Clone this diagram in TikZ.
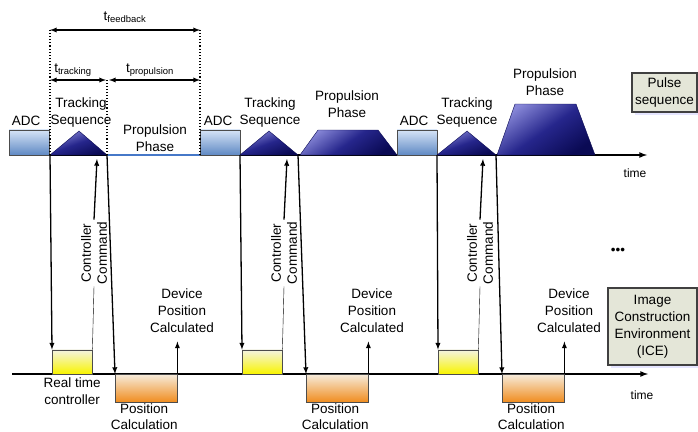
\documentclass[tikz,border=0pt]{standalone}
\usepackage{fontspec}
\setmainfont{Liberation Sans}
\usetikzlibrary{positioning,shadows}

\definecolor{adclight}{RGB}{214,228,246}
\definecolor{adcdark}{RGB}{96,138,196}
\definecolor{seqlight}{RGB}{135,135,215}
\definecolor{seqmid}{RGB}{38,38,140}
\definecolor{seqdark}{RGB}{10,10,84}
\definecolor{rtclight}{RGB}{244,244,226}
\definecolor{rtcdark}{RGB}{248,244,0}
\definecolor{poslight}{RGB}{246,236,220}
\definecolor{posdark}{RGB}{240,140,30}
\definecolor{envfill}{RGB}{228,230,216}
\definecolor{gapline}{RGB}{70,120,200}

\begin{document}
\begin{tikzpicture}[x=1pt, y=-1pt, >=latex, node distance=0pt,
  every node/.style={font=\fontsize{13.5}{17}\selectfont, align=center},
  adcbox/.style={draw=black!70, top color=adclight, bottom color=adcdark, minimum width=40pt, minimum height=25pt, inner sep=0pt, anchor=south west},
  rtcbox/.style={draw=black!70, top color=rtclight, bottom color=rtcdark, minimum width=40pt, minimum height=24pt, inner sep=0pt, anchor=south west},
  posbox/.style={draw=black!70, top color=poslight, bottom color=posdark, minimum width=62pt, minimum height=28pt, inner sep=0pt, anchor=north west},
  seqshape/.style={draw=seqdark, top color=seqlight, bottom color=seqdark, middle color=seqmid, shading angle=20},
  envbox/.style={draw=black!75, line width=1.2pt, fill=envfill, inner sep=2pt, drop shadow={shadow xshift=3pt, shadow yshift=-3pt, fill=blue!20, opacity=0.5}},
  flow/.style={->, line width=1.3pt},
  guide/.style={dotted, line width=1.1pt},
  timelbl/.style={font=\fontsize{12}{14}\selectfont},
  sublbl/.style={inner sep=1pt, font=\fontsize{13.5}{16}\selectfont},
  cmdlbl/.style={rotate=90, inner sep=2pt, font=\fontsize{13.5}{16}\selectfont}]

  \useasboundingbox (0,0) rectangle (698,431);

  % Time axes
  \coordinate (top0) at (10,155);
  \coordinate (top1) at (647,155);
  \coordinate (bot0) at (12,374);
  \coordinate (bot1) at (648,374);
  \draw[->, line width=1.6pt] (top0) -- (top1);
  \draw[->, line width=1.6pt] (bot0) -- (bot1);
  \node[timelbl] (time1) at (635,173) {time};
  \node[timelbl] (time2) at (642,395) {time};

  % Pulse sequence
  \node[adcbox] (adc1) at (9,155) {};
  \node[adcbox] (adc2) at (200,155) {};
  \node[adcbox] (adc3) at (397,155) {};
  \node (adclbl1) [above=0pt of adc1, xshift=-3pt] {ADC};
  \node (adclbl2) [above=0pt of adc2, xshift=-2pt] {ADC};
  \node (adclbl3) [above=0pt of adc3, xshift=-3pt] {ADC};

  \coordinate (trk1w) at (50,155);
  \coordinate (trk1top) at (79,131);
  \coordinate (trk1e) at (107,155);
  \coordinate (trk2w) at (240,155);
  \coordinate (trk2top) at (269,131);
  \coordinate (trk2e) at (298,155);
  \coordinate (trk3w) at (437,155);
  \coordinate (trk3top) at (467,131);
  \coordinate (trk3e) at (496,155);
  \draw[seqshape] (trk1w) -- (trk1top) -- (trk1e) -- cycle;
  \draw[seqshape] (trk2w) -- (trk2top) -- (trk2e) -- cycle;
  \draw[seqshape] (trk3w) -- (trk3top) -- (trk3e) -- cycle;
  \node (trklbl1) [above=0pt of trk1top, xshift=2pt] {Tracking\\Sequence};
  \node (trklbl2) [above=0pt of trk2top, xshift=1pt] {Tracking\\Sequence};
  \node (trklbl3) [above=0pt of trk3top] {Tracking\\Sequence};

  \draw[gapline, line width=1.2pt] (trk1e) -- (adc2.south west);
  \draw[seqshape, shading angle=35] (300,155) -- (318,130) -- (378,130) -- (397,155) -- cycle;
  \draw[seqshape, shading angle=35] (497,155) -- (515,104) -- (576,104) -- (595,155) -- cycle;
  \node (proplbl1) at (155,138) {Propulsion\\Phase};
  \node (proplbl2) at (347,104) {Propulsion\\Phase};
  \node (proplbl3) at (545,82) {Propulsion\\Phase};

  \node[envbox, minimum width=65pt, minimum height=39pt] (pulse) at (664.5,92.5) {Pulse\\sequence};

  % Timing marks
  \coordinate (fbl) at (50,30);
  \coordinate (fbr) at (200,30);
  \coordinate (fbtop) at (50,28);
  \coordinate (fbtopr) at (200,28);
  \coordinate (trkl) at (50,80);
  \coordinate (trkr) at (106,80);
  \coordinate (trkmid) at (107,80);
  \coordinate (propl) at (109,80);
  \coordinate (propr) at (200,80);
  \draw[guide] (trk1w) -- (fbtop);
  \draw[guide] (trk1e) -- (trkmid);
  \draw[guide] (adc2.south west) -- (fbtopr);
  \draw[<->, line width=1.3pt] (fbl) -- (fbr);
  \draw[<->, line width=1.3pt] (trkl) -- (trkr);
  \draw[<->, line width=1.3pt] (propl) -- (propr);
  \node (tfeed) at (125,17) {t\textsubscript{feedback}};
  \node (ttrack) at (73,70) {t\textsubscript{tracking}};
  \node (tprop) at (150,70) {t\textsubscript{propulsion}};

  % Image construction environment
  \node[rtcbox] (rtc1) at (52,374) {};
  \node[rtcbox] (rtc2) at (242,374) {};
  \node[rtcbox] (rtc3) at (438,374) {};
  \node[posbox] (pos1) at (115,374) {};
  \node[posbox] (pos2) at (306,374) {};
  \node[posbox] (pos3) at (502,374) {};
  \node (rtclbl1) [below=0pt of rtc1] {Real time\\controller};
  \node[sublbl] (poslbl1) [below=0pt of pos1, xshift=-2pt] {Position\\Calculation};
  \node[sublbl] (poslbl2) [below=0pt of pos2, xshift=-2pt] {Position\\Calculation};
  \node[sublbl] (poslbl3) [below=0pt of pos3, xshift=-2pt] {Position\\Calculation};
  \node[cmdlbl] (cmd1) at (94,253) {Controller\\Command};
  \node[cmdlbl] (cmd2) at (284,253) {Controller\\Command};
  \node[cmdlbl] (cmd3) at (480,253) {Controller\\Command};
  \node (dev1) at (182,311) {Device\\Position\\Calculated};
  \node (dev2) at (372,311) {Device\\Position\\Calculated};
  \node (dev3) at (569,311) {Device\\Position\\Calculated};
  \node (more) at (618,251) {•••};
  \node[envbox, minimum width=89pt, minimum height=77pt] (ice) at (652.5,326.5) {Image\\Construction\\Environment\\(ICE)};

  % Arrows
  \coordinate (cmdtip1) at (97,159);
  \coordinate (cmdtip2) at (287,159);
  \coordinate (cmdtip3) at (483,159);
  \draw[flow] (trk1w) -- (rtc1.north west);
  \draw (rtc1.north east) -- (cmd1.west);
  \draw[flow] (cmd1.east) -- (cmdtip1);
  \draw[flow] (trk1e) -- (pos1.north west);
  \draw[flow, shorten >=5pt] (pos1.north east) -- (pos1.north east |- dev1.south);
  \draw[flow] (trk2w) -- (rtc2.north west);
  \draw (rtc2.north east) -- (cmd2.west);
  \draw[flow] (cmd2.east) -- (cmdtip2);
  \draw[flow] (trk2e) -- (pos2.north west);
  \draw[flow, shorten >=5pt] (pos2.north east) -- (pos2.north east |- dev2.south);
  \draw[flow] (trk3w) -- (rtc3.north west);
  \draw (rtc3.north east) -- (cmd3.west);
  \draw[flow] (cmd3.east) -- (cmdtip3);
  \draw[flow] (trk3e) -- (pos3.north west);
  \draw[flow, shorten >=5pt] (pos3.north east) -- (pos3.north east |- dev3.south);

\end{tikzpicture}
\end{document}
